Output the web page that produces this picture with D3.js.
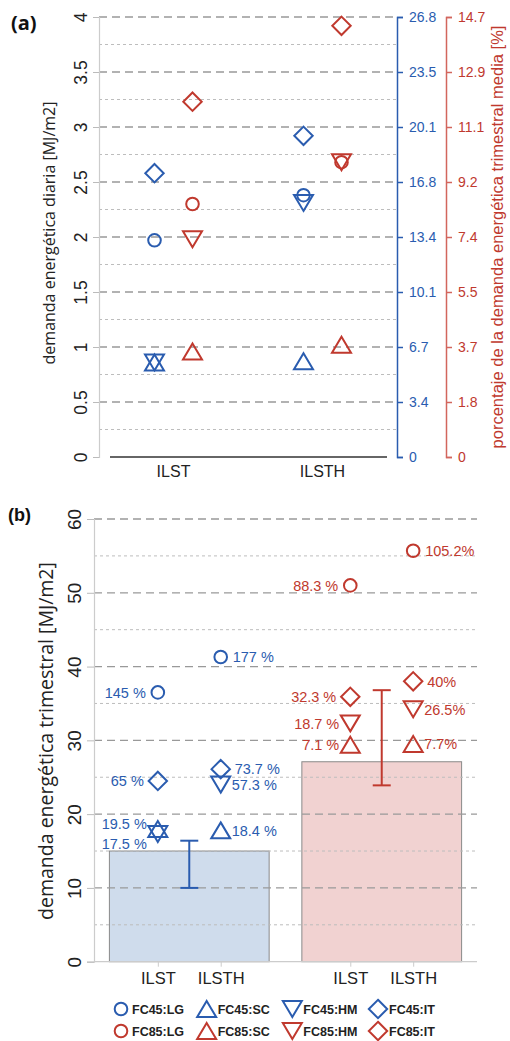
<!DOCTYPE html>
<html><head><meta charset="utf-8">
<script src="https://cdn.jsdelivr.net/npm/d3@7"></script>
<style>body{margin:0;background:#fff} svg{display:block}</style>
</head><body>
<svg id="c" width="510" height="1041"></svg>
<script>
// ---------- DATA ----------
const categories = ["ILST", "ILSTH"];
const groups = ["FC45", "FC85"];
const schemes = ["LG", "SC", "HM", "IT"];

// (a) daily energy demand [MJ/m2]
const dailyFC45_LG = [1.97, 2.38];
const dailyFC45_SC = [0.86, 0.87];
const dailyFC45_HM = [0.86, 2.31];
const dailyFC45_IT = [2.58, 2.92];
const dailyFC85_LG = [2.30, 2.68];
const dailyFC85_SC = [0.96, 1.02];
const dailyFC85_HM = [1.98, 2.68];
const dailyFC85_IT = [3.23, 3.92];

const leftTicksA = [0, 0.5, 1, 1.5, 2, 2.5, 3, 3.5, 4];
const leftTickLabelsA = ["0", "0.5", "1", "1.5", "2", "2.5", "3", "3.5", "4"];
const blueTickLabels = ["0", "3.4", "6.7", "10.1", "13.4", "16.8", "20.1", "23.5", "26.8"];
const redTickLabels = ["0", "1.8", "3.7", "5.5", "7.4", "9.2", "11.1", "12.9", "14.7"];

// (b) quarterly energy demand [MJ/m2]
const quarterFC45_LG = [36.5, 41.3];
const quarterFC45_SC = [18.0, 17.8];
const quarterFC45_HM = [17.3, 24.0];
const quarterFC45_IT = [24.5, 26.1];
const quarterFC85_LG = [51.0, 55.7];
const quarterFC85_SC = [29.4, 29.5];
const quarterFC85_HM = [32.3, 34.2];
const quarterFC85_IT = [35.9, 38.0];

const pctFC45_LG = ["145 %", "177 %"];
const pctFC45_SC = ["17.5 %", "18.4 %"];
const pctFC45_HM = ["19.5 %", "57.3 %"];
const pctFC45_IT = ["65 %", "73.7 %"];
const pctFC85_LG = ["88.3 %", "105.2%"];
const pctFC85_SC = ["7.1 %", "7.7%"];
const pctFC85_HM = ["18.7 %", "26.5%"];
const pctFC85_IT = ["32.3 %", "40%"];

const barMean = [15.0, 27.1];
const barErrLow = [10.0, 23.9];
const barErrHigh = [16.4, 36.8];

const leftTicksB = [0, 10, 20, 30, 40, 50, 60];

// ---------- STYLE ----------
const BLUE = "#2a5caf", RED = "#c0392e";
const color = {FC45: BLUE, FC85: RED};
const TXT = "#222";
const SANS = "'Liberation Sans', Arial, Helvetica, sans-serif";
const TITLE = "'Open Sans', 'Noto Sans', sans-serif";

const dailyData = {
  FC45: {LG: dailyFC45_LG, SC: dailyFC45_SC, HM: dailyFC45_HM, IT: dailyFC45_IT},
  FC85: {LG: dailyFC85_LG, SC: dailyFC85_SC, HM: dailyFC85_HM, IT: dailyFC85_IT}
};
const quarterData = {
  FC45: {LG: quarterFC45_LG, SC: quarterFC45_SC, HM: quarterFC45_HM, IT: quarterFC45_IT},
  FC85: {LG: quarterFC85_LG, SC: quarterFC85_SC, HM: quarterFC85_HM, IT: quarterFC85_IT}
};
const pctData = {
  FC45: {LG: pctFC45_LG, SC: pctFC45_SC, HM: pctFC45_HM, IT: pctFC45_IT},
  FC85: {LG: pctFC85_LG, SC: pctFC85_SC, HM: pctFC85_HM, IT: pctFC85_IT}
};

function markerPath(kind) {
  const r = 6.3, s = 19, h = 16, d = 9.2;
  if (kind === "LG") return `M${r},0A${r},${r} 0 1,1 ${-r},0A${r},${r} 0 1,1 ${r},0Z`;
  if (kind === "SC") return `M0,${-h/2}L${s/2},${h/2}L${-s/2},${h/2}Z`;
  if (kind === "HM") return `M0,${h/2}L${s/2},${-h/2}L${-s/2},${-h/2}Z`;
  return `M0,${-d}L${d},0L0,${d}L${-d},0Z`;
}

const svg = d3.select("#c");

// ================= PANEL (a) =================
const yA = d3.scaleLinear().domain([0, 4]).range([457, 17]);
const xA = d3.scaleBand().domain(categories).range([99, 397]);
const gA = d3.scalePoint().domain(groups).range([-19, 19]);
const A = svg.append("g");

// grid
const minorA = d3.range(0.25, 4, 0.5);
A.selectAll(".mnA").data(minorA).join("line")
  .attr("x1", 99).attr("x2", 397).attr("y1", d => yA(d)).attr("y2", d => yA(d))
  .attr("stroke", "#bdbdbd").attr("stroke-width", 1).attr("stroke-dasharray", "3,3");
A.selectAll(".mjA").data(leftTicksA.slice(1)).join("line")
  .attr("x1", 99).attr("x2", 397).attr("y1", d => yA(d)).attr("y2", d => yA(d))
  .attr("stroke", "#999").attr("stroke-width", 1.3).attr("stroke-dasharray", "8,5");

// left axis
const axL = A.append("g").attr("transform", "translate(99,0)")
  .call(d3.axisLeft(yA).tickValues(leftTicksA).tickFormat((d, i) => leftTickLabelsA[i]).tickSize(6).tickPadding(4));
axL.select(".domain").attr("stroke", "#ccc").attr("stroke-width", 1.2);
axL.selectAll(".tick line").attr("stroke", "#bbb");
axL.selectAll(".tick text").attr("transform", "rotate(-90)").attr("x", 0).attr("y", -12)
  .attr("dy", 0).attr("text-anchor", "middle")
  .style("font-family", SANS).style("font-size", "17.5px").attr("fill", TXT);

// bottom axis line
const axB = A.append("g").attr("transform", "translate(0,457)")
  .call(d3.axisBottom(xA).tickSize(0).tickPadding(9));
axB.select(".domain").attr("d", "M110,0H387").attr("stroke", "#333").attr("stroke-width", 1.3);
axB.selectAll(".tick text").style("font-family", SANS).style("font-size", "16px").attr("fill", TXT);

// right axes
const axBlue = A.append("g").attr("transform", "translate(397,0)")
  .call(d3.axisRight(yA).tickValues(leftTicksA).tickFormat((d, i) => blueTickLabels[i]).tickSize(6).tickPadding(6));
axBlue.select(".domain").attr("stroke", BLUE).attr("stroke-width", 1.5);
axBlue.selectAll(".tick line").attr("stroke", BLUE).attr("stroke-width", 1.5);
axBlue.selectAll(".tick text").style("font-family", SANS).style("font-size", "14px").attr("fill", BLUE);

const axRed = A.append("g").attr("transform", "translate(446,0)")
  .call(d3.axisRight(yA).tickValues(leftTicksA).tickFormat((d, i) => redTickLabels[i]).tickSize(6).tickPadding(6));
axRed.select(".domain").attr("stroke", "#d2665d").attr("stroke-width", 1.5);
axRed.selectAll(".tick line").attr("stroke", "#d2665d").attr("stroke-width", 1.5);
axRed.selectAll(".tick text").style("font-family", SANS).style("font-size", "14px").attr("fill", RED);

// titles
A.append("text").attr("transform", "translate(55,233) rotate(-90)").attr("text-anchor", "middle")
  .style("font-family", TITLE).style("font-size", "16px").attr("fill", TXT)
  .text("demanda energética diaria [MJ/m2]");
A.append("text").attr("transform", "translate(503,237) rotate(-90)").attr("text-anchor", "middle")
  .style("font-family", SANS).style("font-size", "16.5px").attr("fill", RED)
  .text("porcentaje de la demanda energética trimestral media [%]");
A.append("text").attr("x", 11).attr("y", 30).style("font-family", TITLE).style("font-weight", "bold")
  .style("font-size", "20px").attr("fill", "#111").text("(a)");

// markers
const ptsA = [];
groups.forEach(g => schemes.forEach(s => categories.forEach((c, i) =>
  ptsA.push({g, s, c, v: dailyData[g][s][i]}))));
A.selectAll(".mkA").data(ptsA).join("path")
  .attr("d", d => markerPath(d.s))
  .attr("transform", d => `translate(${xA(d.c) + xA.bandwidth() / 2 + gA(d.g)},${yA(d.v)})`)
  .attr("fill", "none").attr("stroke", d => color[d.g]).attr("stroke-width", 2);

// ================= PANEL (b) =================
const yB = d3.scaleLinear().domain([0, 60]).range([961.7, 519]);
const xG = d3.scaleBand().domain(groups).range([94, 477]).paddingInner(0.17).paddingOuter(0.08);
const xC = d3.scalePoint().domain(categories).range([0, xG.bandwidth()]).padding(0.77);
const B = svg.append("g");

// bars
B.selectAll(".bar").data(groups).join("rect")
  .attr("x", d => xG(d)).attr("width", xG.bandwidth())
  .attr("y", (d, i) => yB(barMean[i])).attr("height", (d, i) => yB(0) - yB(barMean[i]))
  .attr("fill", (d, i) => i === 0 ? "#cfdcec" : "#f1d2d1")
  .attr("stroke", "#8a8a8a").attr("stroke-width", 1);

// grid
const minorB = d3.range(5, 60, 10);
B.selectAll(".mnB").data(minorB).join("line")
  .attr("x1", 94).attr("x2", 477).attr("y1", d => yB(d)).attr("y2", d => yB(d))
  .attr("stroke", "#bdbdbd").attr("stroke-width", 1).attr("stroke-dasharray", "3,3");
B.selectAll(".mjB").data(leftTicksB.slice(1)).join("line")
  .attr("x1", 94).attr("x2", 477).attr("y1", d => yB(d)).attr("y2", d => yB(d))
  .attr("stroke", "#999").attr("stroke-width", 1.3).attr("stroke-dasharray", "8,5");

// left axis
const axLB = B.append("g").attr("transform", "translate(94,0)")
  .call(d3.axisLeft(yB).tickValues(leftTicksB).tickSize(7).tickPadding(4));
axLB.select(".domain").attr("stroke", "#ccc").attr("stroke-width", 1.2);
axLB.selectAll(".tick line").attr("stroke", "#bbb");
axLB.selectAll(".tick text").attr("transform", "rotate(-90)").attr("x", 0).attr("y", -13)
  .attr("dy", 0).attr("text-anchor", "middle")
  .style("font-family", SANS).style("font-size", "19px").attr("fill", TXT);

// bottom axis: category ticks within each group
B.append("line").attr("x1", 94).attr("x2", 477).attr("y1", yB(0)).attr("y2", yB(0))
  .attr("stroke", "#ccc").attr("stroke-width", 1.2);
groups.forEach(g => {
  const ax = B.append("g").attr("transform", `translate(${xG(g)},${yB(0)})`)
    .call(d3.axisBottom(xC).tickSize(5).tickPadding(6));
  ax.select(".domain").remove();
  ax.selectAll(".tick line").attr("stroke", "#ccc");
  ax.selectAll(".tick text").style("font-family", SANS).style("font-size", "16.5px").attr("fill", TXT);
});

// error bars
groups.forEach((g, i) => {
  const cx = xG(g) + xG.bandwidth() / 2;
  const eb = B.append("g").attr("stroke", color[g]).attr("stroke-width", 2).attr("fill", "none");
  eb.append("line").attr("x1", cx).attr("x2", cx).attr("y1", yB(barErrLow[i])).attr("y2", yB(barErrHigh[i]));
  eb.append("line").attr("x1", cx - 9).attr("x2", cx + 9).attr("y1", yB(barErrLow[i])).attr("y2", yB(barErrLow[i]));
  eb.append("line").attr("x1", cx - 9).attr("x2", cx + 9).attr("y1", yB(barErrHigh[i])).attr("y2", yB(barErrHigh[i]));
});

// markers + labels
const ptsB = [];
groups.forEach(g => schemes.forEach(s => categories.forEach((c, i) =>
  ptsB.push({g, s, c, i, v: quarterData[g][s][i], t: pctData[g][s][i]}))));
const px = d => xG(d.g) + xC(d.c);
B.selectAll(".mkB").data(ptsB).join("path")
  .attr("d", d => markerPath(d.s))
  .attr("transform", d => `translate(${px(d)},${yB(d.v)})`)
  .attr("fill", "none").attr("stroke", d => color[d.g]).attr("stroke-width", 2);

const gap = {LG: 12, SC: 11, HM: 11, IT: 14};
function labelDy(d) {
  const sc = quarterData[d.g].SC[d.i], hm = quarterData[d.g].HM[d.i];
  if ((d.s === "SC" || d.s === "HM") && Math.abs(sc - hm) < 2) {
    const upper = hm <= sc ? "HM" : "SC";
    return d.s === upper ? -8 - yB(d.v) + yB((sc + hm) / 2) : 12 - yB(d.v) + yB((sc + hm) / 2);
  }
  return 0;
}
B.selectAll(".lbB").data(ptsB).join("text")
  .attr("x", d => d.i === 0 ? px(d) - gap[d.s] : px(d) + gap[d.s])
  .attr("y", d => yB(d.v) + labelDy(d))
  .attr("dy", "0.36em")
  .attr("text-anchor", d => d.i === 0 ? "end" : "start")
  .style("font-family", SANS).style("font-size", "14.5px")
  .attr("fill", d => color[d.g]).text(d => d.t);

// titles
B.append("text").attr("transform", "translate(53,741) rotate(-90)").attr("text-anchor", "middle")
  .style("font-family", TITLE).style("font-size", "19.5px").attr("fill", TXT)
  .text("demanda energética trimestral [MJ/m2]");
B.append("text").attr("x", 8).attr("y", 521).style("font-family", SANS).style("font-weight", "bold")
  .style("font-size", "18px").attr("fill", "#111").text("(b)");

// ================= LEGEND =================
const lx = d3.scalePoint().domain(schemes).range([121, 378]);
const ly = d3.scalePoint().domain(groups).range([1009, 1031]);
const L = svg.append("g");
groups.forEach(g => schemes.forEach(s => {
  L.append("path").attr("d", markerPath(s)).attr("transform", `translate(${lx(s)},${ly(g)})`)
    .attr("fill", "none").attr("stroke", color[g]).attr("stroke-width", 2);
  L.append("text").attr("x", lx(s) + 11).attr("y", ly(g)).attr("dy", "0.36em")
    .style("font-family", SANS).style("font-weight", "bold").style("font-size", "12.5px")
    .attr("fill", TXT).text(`${g}:${s}`);
}));
</script>
</body></html>
